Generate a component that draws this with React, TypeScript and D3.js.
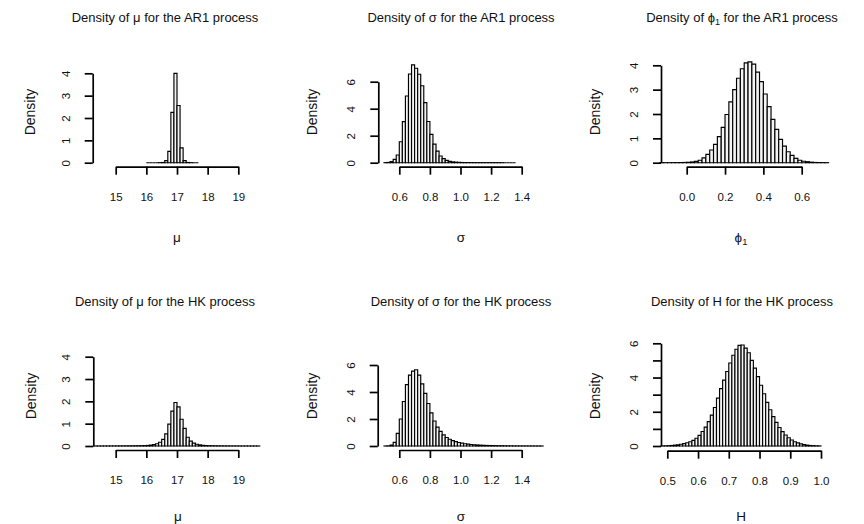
import React, { useEffect, useRef } from 'react';
import * as d3 from 'd3';

// histogram densities (bin start, bin width, density per bin)
const muAR1Start = 16.0;
const muAR1Width = 0.1;
const muAR1Density = [0, 0, 0, 0, 0.002, 0.01, 0.09, 0.51, 2.25, 4.0, 2.56, 0.66, 0.09, 0.01, 0.002, 0, 0];

const sigmaAR1Start = 0.5;
const sigmaAR1Width = 0.02;
const sigmaAR1Density = [
    0.005, 0.02, 0.08, 0.25, 0.57, 1.55, 3.04, 4.94, 6.57, 7.25, 7.0, 6.55, 5.7, 4.45, 3.05, 2.1,
    1.38, 0.86, 0.5, 0.3, 0.17, 0.1, 0.06, 0.04, 0.025, 0.015, 0.01, 0.007, 0.005, 0.004, 0.003,
    0.002, 0.002, 0.001, 0.001, 0.001, 0.001, 0.001, 0.001, 0, 0, 0, 0,
];

const phiAR1Start = -0.14;
const phiAR1Width = 0.02;
const phiAR1Density = [
    0.001, 0.001, 0.001, 0.002, 0.003, 0.005, 0.01, 0.016, 0.03, 0.055, 0.1, 0.2, 0.34, 0.52, 0.75,
    1.07, 1.45, 1.98, 2.5, 3.0, 3.47, 3.86, 4.1, 4.14, 4.05, 3.72, 3.33, 2.82, 2.3, 1.78, 1.37, 0.96,
    0.68, 0.45, 0.3, 0.18, 0.1, 0.06, 0.04, 0.02, 0.01, 0.005, 0.003, 0.001,
];

const muHKStart = 14.3;
const muHKWidth = 0.1;
const muHKDensity = [
    0.001, 0.001, 0.001, 0.002, 0.002, 0.003, 0.003, 0.004, 0.005, 0.006, 0.007, 0.008, 0.009, 0.01,
    0.012, 0.014, 0.017, 0.025, 0.04, 0.06, 0.1, 0.17, 0.3, 0.54, 0.98, 1.56, 1.95, 1.75, 1.2, 0.79,
    0.39, 0.22, 0.13, 0.08, 0.05, 0.03, 0.02, 0.014, 0.011, 0.009, 0.007, 0.006, 0.005, 0.004, 0.003,
    0.003, 0.002, 0.002, 0.001, 0.001, 0.001, 0.001, 0.001, 0.001,
];

const sigmaHKStart = 0.5;
const sigmaHKWidth = 0.02;
const sigmaHKDensity = [
    0.002, 0.01, 0.07, 0.27, 0.94, 2.0, 3.3, 4.55, 5.25, 5.55, 5.65, 5.25, 4.6, 3.9, 3.15, 2.45, 1.85,
    1.4, 1.08, 0.82, 0.63, 0.5, 0.4, 0.32, 0.26, 0.21, 0.17, 0.14, 0.11, 0.09, 0.075, 0.06, 0.05, 0.04,
    0.035, 0.03, 0.025, 0.02, 0.017, 0.014, 0.012, 0.01, 0.008, 0.007, 0.006, 0.005, 0.004, 0.003,
    0.003, 0.002, 0.002, 0.001,
];

const hHKStart = 0.48;
const hHKWidth = 0.01;
const hHKDensity = [
    0.005, 0.01, 0.02, 0.03, 0.05, 0.07, 0.1, 0.14, 0.19, 0.25, 0.33, 0.45, 0.62, 0.85, 1.1, 1.42, 1.8,
    2.25, 2.8, 3.35, 3.85, 4.35, 4.85, 5.3, 5.65, 5.88, 5.9, 5.72, 5.45, 5.0, 4.55, 4.05, 3.55, 3.05,
    2.55, 2.12, 1.72, 1.38, 1.08, 0.84, 0.64, 0.48, 0.35, 0.25, 0.18, 0.12, 0.08, 0.05, 0.03, 0.02,
    0.01, 0.005,
];

// tick values and labels
const muTicks = [15, 16, 17, 18, 19];
const muTickLabels = ['15', '16', '17', '18', '19'];
const sigmaTicks = [0.6, 0.8, 1.0, 1.2, 1.4];
const sigmaTickLabels = ['0.6', '0.8', '1.0', '1.2', '1.4'];
const phiTicks = [0, 0.2, 0.4, 0.6];
const phiTickLabels = ['0.0', '0.2', '0.4', '0.6'];
const hTicks = [0.5, 0.6, 0.7, 0.8, 0.9, 1.0];
const hTickLabels = ['0.5', '0.6', '0.7', '0.8', '0.9', '1.0'];
const yTicks4 = [0, 1, 2, 3, 4];
const yTicks4Labels = ['0', '1', '2', '3', '4'];
const yTicks6 = [0, 2, 4, 6];
const yTicks6Labels = ['0', '2', '4', '6'];
const yTicks6All = [0, 1, 2, 3, 4, 5, 6];
const yTicks6AllLabels = ['0', '', '2', '', '4', '', '6'];

const FONT = "'Liberation Sans', Arial, Helvetica, sans-serif";

const panels = [
    {
        sym: '\u03bc', sub: '', proc: 'AR1',
        start: muAR1Start, width: muAR1Width, density: muAR1Density,
        xTicks: muTicks, xLabels: muTickLabels, yTicks: yTicks4, yLabels: yTicks4Labels,
        xRange: [115.7, 238.3], yRange: [162.7, 73.3], yAxisX: 92.7, xAxisY: 166.7,
        titleX: 165, titleY: 22, xLabX: 177, xLabY: 242, yLabX: 30, yLabY: 112,
    },
    {
        sym: '\u03c3', sub: '', proc: 'AR1',
        start: sigmaAR1Start, width: sigmaAR1Width, density: sigmaAR1Density,
        xTicks: sigmaTicks, xLabels: sigmaTickLabels, yTicks: yTicks6, yLabels: yTicks6Labels,
        xRange: [399.3, 521.7], yRange: [162.7, 81.7], yAxisX: 378.3, xAxisY: 166.7,
        titleX: 461, titleY: 22, xLabX: 461, xLabY: 242, yLabX: 312, yLabY: 112,
    },
    {
        sym: '\u03d5', sub: '1', proc: 'AR1',
        start: phiAR1Start, width: phiAR1Width, density: phiAR1Density,
        xTicks: phiTicks, xLabels: phiTickLabels, yTicks: yTicks4, yLabels: yTicks4Labels,
        xRange: [686.7, 801.7], yRange: [162.7, 65.3], yAxisX: 661, xAxisY: 166.7,
        titleX: 742, titleY: 22, xLabX: 741, xLabY: 242, yLabX: 595, yLabY: 112,
    },
    {
        sym: '\u03bc', sub: '', proc: 'HK',
        start: muHKStart, width: muHKWidth, density: muHKDensity,
        xTicks: muTicks, xLabels: muTickLabels, yTicks: yTicks4, yLabels: yTicks4Labels,
        xRange: [115.7, 238.3], yRange: [446, 356.7], yAxisX: 93.3, xAxisY: 450,
        titleX: 165, titleY: 306, xLabX: 178, xLabY: 521, yLabX: 31, yLabY: 396,
    },
    {
        sym: '\u03c3', sub: '', proc: 'HK',
        start: sigmaHKStart, width: sigmaHKWidth, density: sigmaHKDensity,
        xTicks: sigmaTicks, xLabels: sigmaTickLabels, yTicks: yTicks6, yLabels: yTicks6Labels,
        xRange: [399.3, 521.7], yRange: [446, 365], yAxisX: 377.7, xAxisY: 450,
        titleX: 461, titleY: 306, xLabX: 461, xLabY: 521, yLabX: 312, yLabY: 396,
    },
    {
        sym: 'H', sub: '', proc: 'HK',
        start: hHKStart, width: hHKWidth, density: hHKDensity,
        xTicks: hTicks, xLabels: hTickLabels, yTicks: yTicks6All, yLabels: yTicks6AllLabels,
        xRange: [667.3, 821], yRange: [446, 343.3], yAxisX: 661, xAxisY: 450.7,
        titleX: 742, titleY: 306, xLabX: 741, xLabY: 521, yLabX: 595, yLabY: 396,
    },
];

// symbol with optional subscript, appended as tspans
const appendSymbol = (text, p, size) => {
    text.append('tspan').text(p.sym);
    if (p.sub) {
        text.append('tspan')
            .attr('font-size', size * 0.7)
            .attr('dy', size * 0.25)
            .text(p.sub);
    }
};

const drawPanel = (svg, p) => {
    const g = svg.append('g');
    const x = d3.scaleLinear()
        .domain([p.xTicks[0], p.xTicks[p.xTicks.length - 1]])
        .range(p.xRange);
    const y = d3.scaleLinear()
        .domain([0, p.yTicks[p.yTicks.length - 1]])
        .range(p.yRange);

    const bins = p.density.map((d, i) => ({
        x0: p.start + i * p.width,
        x1: p.start + (i + 1) * p.width,
        d,
    }));

    // bars (paths so that zero height bins still show as a line)
    g.selectAll('path.bar')
        .data(bins)
        .join('path')
        .attr('class', 'bar')
        .attr('d', (b) => `M${x(b.x0)},${y(0)}V${y(b.d)}H${x(b.x1)}V${y(0)}Z`)
        .attr('fill', '#f4f4f4')
        .attr('stroke', 'black')
        .attr('stroke-width', 1.15)
        .attr('stroke-linejoin', 'miter');

    // x axis
    const xa = g.append('g')
        .attr('transform', `translate(0,${p.xAxisY})`)
        .call(d3.axisBottom(x)
            .tickValues(p.xTicks)
            .tickFormat((d, i) => p.xLabels[i])
            .tickSize(8)
            .tickSizeOuter(0)
            .tickPadding(18));
    xa.selectAll('path, line').attr('stroke', 'black').attr('stroke-width', 1.7);
    xa.selectAll('text').attr('fill', '#111');
    xa.attr('font-size', 11.5).attr('font-family', FONT);

    // y axis
    const ya = g.append('g')
        .attr('transform', `translate(${p.yAxisX},0)`)
        .call(d3.axisLeft(y)
            .tickValues(p.yTicks)
            .tickFormat((d, i) => p.yLabels[i])
            .tickSize(8)
            .tickSizeOuter(0));
    ya.selectAll('path, line').attr('stroke', 'black').attr('stroke-width', 1.7);
    ya.selectAll('text')
        .attr('x', 0)
        .attr('y', 0)
        .attr('dy', '0.35em')
        .attr('text-anchor', 'middle')
        .attr('transform', 'translate(-27,0) rotate(-90)')
        .attr('fill', '#111');
    ya.attr('font-size', 11.5).attr('font-family', FONT);

    // title
    const title = g.append('text')
        .attr('x', p.titleX)
        .attr('y', p.titleY)
        .attr('text-anchor', 'middle')
        .attr('font-size', 13)
        .attr('font-family', FONT)
        .attr('fill', '#111');
    title.append('tspan').text('Density of ');
    appendSymbol(title, p, 13);
    title.append('tspan')
        .attr('dy', p.sub ? -13 * 0.25 : 0)
        .text(` for the ${p.proc} process`);

    // x label
    const xl = g.append('text')
        .attr('x', p.xLabX)
        .attr('y', p.xLabY)
        .attr('text-anchor', 'middle')
        .attr('font-size', 13.5)
        .attr('font-family', FONT)
        .attr('fill', '#111');
    appendSymbol(xl, p, 13.5);

    // y label
    g.append('text')
        .attr('transform', `translate(${p.yLabX},${p.yLabY}) rotate(-90)`)
        .attr('dy', '0.35em')
        .attr('text-anchor', 'middle')
        .attr('font-size', 14)
        .attr('font-family', FONT)
        .attr('fill', '#111')
        .text('Density');
};

const App = () => {
    const ref = useRef(null);

    useEffect(() => {
        const svg = d3.select(ref.current);
        svg.selectAll('*').remove();
        panels.forEach((p) => drawPanel(svg, p));
    }, []);

    return (
        <svg
            ref={ref}
            width={864}
            height={524}
            style={{ position: 'absolute', left: 0, top: 0, background: 'white' }}
        />
    );
};

export default App;
